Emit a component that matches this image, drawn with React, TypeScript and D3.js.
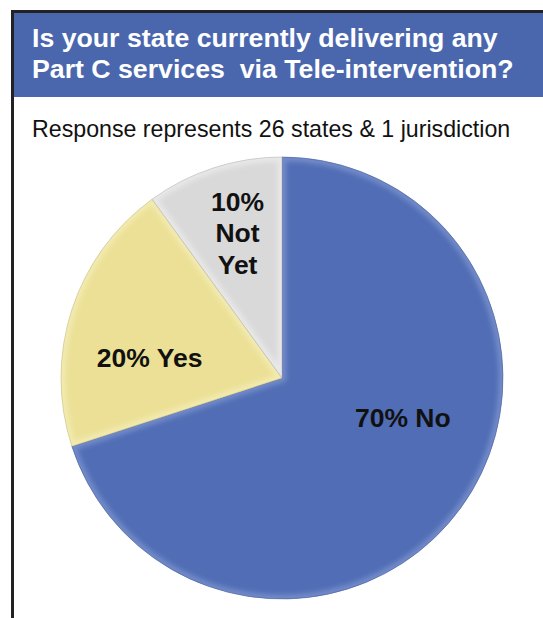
import * as d3 from 'd3';
import React, { useEffect, useRef } from 'react';

// chart values
const categories = ['No', 'Yes', 'Not Yet'];
const percents = [70, 20, 10];
const labelLines = [['70% No'], ['20% Yes'], ['10%', 'Not', 'Yet']];
const sliceColors = ['#506db5', '#ebe095', '#d9d9d9'];
const sliceHighlights = ['#8ea3d8', '#f8f2c6', '#f4f4f4'];

const titleLines = [
    'Is your state currently delivering any',
    'Part C services  via Tele-intervention?',
];
const subtitle = 'Response represents 26 states & 1 jurisdiction';

// where each label sits (degrees clockwise from 12 o'clock, distance from centre)
const labelPlacement: Record<string, { angle: number; radius: number }> = {
    No: { angle: 108, radius: 127 },
    Yes: { angle: 279, radius: 134 },
    'Not Yet': { angle: 343, radius: 152 },
};

const WIDTH = 543;
const HEIGHT = 618;
const FONT = '"Liberation Sans", Arial, Helvetica, sans-serif';

export default function App() {
    const ref = useRef<SVGSVGElement | null>(null);

    useEffect(() => {
        const svg = d3.select(ref.current);
        svg.selectAll('*').remove();

        const cx = 282;
        const cy = 378;
        const radius = 221;

        const defs = svg.append('defs');
        defs.append('filter')
            .attr('id', 'soft')
            .attr('x', '-20%')
            .attr('y', '-20%')
            .attr('width', '140%')
            .attr('height', '140%')
            .append('feGaussianBlur')
            .attr('stdDeviation', 2.5);

        // frame + header band
        svg.append('rect')
            .attr('x', 12.5)
            .attr('y', 11.5)
            .attr('width', WIDTH)
            .attr('height', HEIGHT + 20)
            .attr('fill', '#fff')
            .attr('stroke', '#222')
            .attr('stroke-width', 3);

        svg.append('rect')
            .attr('x', 14)
            .attr('y', 13)
            .attr('width', WIDTH - 14)
            .attr('height', 84)
            .attr('fill', '#4a67ae');

        svg.append('g')
            .selectAll('text')
            .data(titleLines)
            .join('text')
            .attr('x', 32)
            .attr('y', (_d, i) => 47 + i * 31)
            .attr('fill', '#fff')
            .attr('font-family', FONT)
            .attr('font-weight', 'bold')
            .attr('font-size', 26.7)
            .style('white-space', 'pre')
            .text((d) => d);

        svg.append('text')
            .attr('x', 32)
            .attr('y', 137)
            .attr('fill', '#111')
            .attr('font-family', FONT)
            .attr('font-size', 23.2)
            .text(subtitle);

        // pie
        const pie = d3
            .pie<number>()
            .sort(null)
            .value((d) => d);
        const arcs = pie(percents);

        const arc = d3.arc<d3.PieArcDatum<number>>().innerRadius(0).outerRadius(radius);

        const g = svg.append('g').attr('transform', `translate(${cx},${cy})`);

        arcs.forEach((a, i) => {
            const clipId = `clip-${i}`;
            defs.append('clipPath')
                .attr('id', clipId)
                .append('path')
                .attr('d', arc(a) as string);

            g.append('path')
                .attr('d', arc(a) as string)
                .attr('fill', sliceColors[i]);

            // bevel-ish inner highlight
            g.append('path')
                .attr('d', arc(a) as string)
                .attr('fill', 'none')
                .attr('stroke', sliceHighlights[i])
                .attr('stroke-width', 9)
                .attr('stroke-opacity', 0.55)
                .attr('filter', 'url(#soft)')
                .attr('clip-path', `url(#${clipId})`);

            // subtle darker seam
            g.append('path')
                .attr('d', arc(a) as string)
                .attr('fill', 'none')
                .attr('stroke', d3.color(sliceColors[i])!.darker(0.6).toString())
                .attr('stroke-width', 1)
                .attr('stroke-opacity', 0.5);
        });

        // labels
        const labels = g.append('g');
        categories.forEach((cat, i) => {
            const p = labelPlacement[cat];
            const ang = (p.angle * Math.PI) / 180;
            const x = Math.sin(ang) * p.radius;
            const y = -Math.cos(ang) * p.radius;
            const lines = labelLines[i];
            const lineH = 31.5;
            const top = y - ((lines.length - 1) * lineH) / 2;
            labels
                .append('text')
                .attr('text-anchor', 'middle')
                .attr('font-family', FONT)
                .attr('font-weight', 'bold')
                .attr('font-size', 26.5)
                .attr('fill', '#111')
                .selectAll('tspan')
                .data(lines)
                .join('tspan')
                .attr('x', x)
                .attr('y', (_d, j) => top + j * lineH)
                .attr('dy', '0.36em')
                .text((d) => d);
        });
    }, []);

    return (
        <svg
            ref={ref}
            width={WIDTH}
            height={HEIGHT}
            style={{ position: 'absolute', left: 0, top: 0, background: '#fff' }}
        />
    );
}
